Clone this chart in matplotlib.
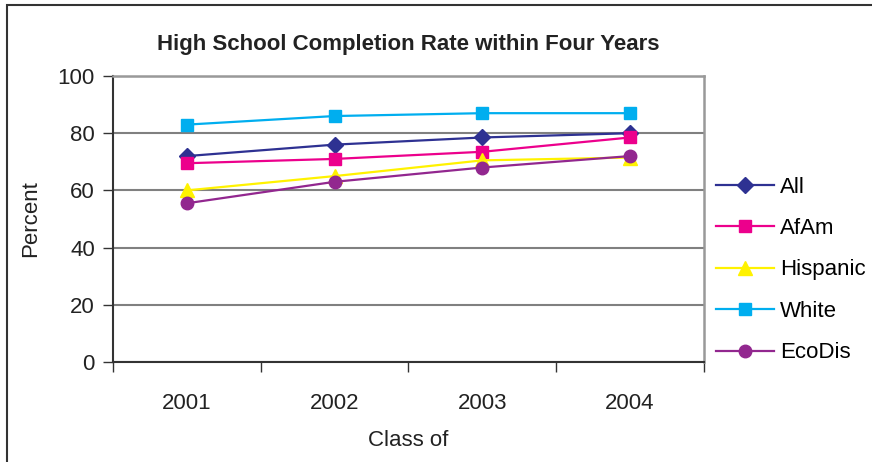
import matplotlib
matplotlib.use("Agg")
import matplotlib.pyplot as plt
from matplotlib.patches import Rectangle

plt.rcParams['font.family'] = ['Liberation Sans', 'DejaVu Sans']

# data
years = ['2001', '2002', '2003', '2004']
all_rate = [72, 76, 78.5, 80]
afam = [69.5, 71, 73.5, 78.5]
hispanic = [60, 65, 70.5, 71.5]
white = [83, 86, 87, 87]
ecodis = [55.5, 63, 68, 72]

series = [
    ('All', all_rate, '#2E3192', 'D', 8),
    ('AfAm', afam, '#EC008C', 's', 8.5),
    ('Hispanic', hispanic, '#FFF200', '^', 10),
    ('White', white, '#00AEEF', 's', 8.5),
    ('EcoDis', ecodis, '#92278F', 'o', 9),
]

fig = plt.figure(figsize=(8.72, 4.62), dpi=100)
ax = fig.add_axes([0.1296, 0.2165, 0.6777, 0.619])

x = list(range(len(years)))
for name, vals, col, mk, ms in series:
    ax.plot(x, vals, color=col, marker=mk, markersize=ms, lw=1.6,
            label=name, markeredgecolor=col, clip_on=False)

ax.set_xlim(-0.5, 3.5)
ax.set_ylim(0, 100)
ax.set_yticks(range(0, 101, 20))
ax.set_xticks(x)
ax.set_xticklabels(years)
ax.set_xticks([-0.5, 0.5, 1.5, 2.5, 3.5], minor=True)
ax.tick_params(axis='x', which='major', length=0, pad=22, labelsize=16, colors='#222222')
ax.tick_params(axis='x', which='minor', length=7, width=1, color='#333333')
ax.tick_params(axis='y', length=7, width=1, color='#333333', labelsize=16,
               labelcolor='#222222', pad=6)

ax.yaxis.grid(True, color='#808080', lw=1.5)
ax.set_axisbelow(True)
for s in ['top', 'right']:
    ax.spines[s].set_color('#999999')
    ax.spines[s].set_linewidth(1.8)
for s in ['left', 'bottom']:
    ax.spines[s].set_color('#333333')
    ax.spines[s].set_linewidth(1.5)

ax.set_title('High School Completion Rate within Four Years', fontsize=16,
             fontweight='bold', color='#222222', pad=19)
ax.set_ylabel('Percent', fontsize=16, color='#222222', labelpad=12)
ax.set_xlabel('Class of', fontsize=16, color='#222222', labelpad=12)

ax.legend(loc='center left', bbox_to_anchor=(1.0, 0.322), frameon=False,
          fontsize=16, handlelength=2.6, labelspacing=0.92, handletextpad=0.3,
          borderaxespad=0.13)

# outer chart border (only left and top visible in the crop)
fig.add_artist(Rectangle((7 / 872, -0.1), 1.2, 1.1 - 5 / 462,
                         transform=fig.transFigure, fill=False,
                         edgecolor='#333333', lw=1.5))

fig.savefig('out.png', dpi=100)
